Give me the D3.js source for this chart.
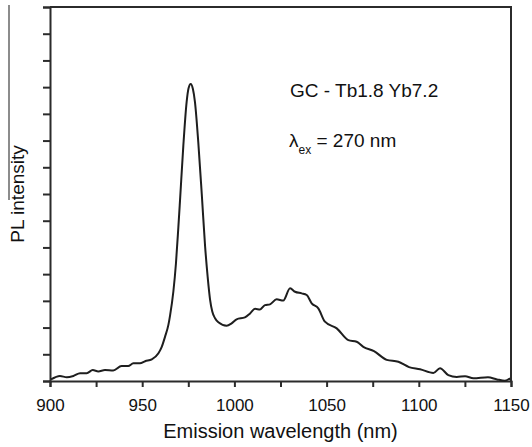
<!DOCTYPE html>
<html>
<head>
<meta charset="utf-8">
<script src="https://cdn.jsdelivr.net/npm/d3@7"></script>
<style>
  body { margin: 0; background: #fff; }
  svg { display: block; font-family: "Liberation Sans", Arial, Helvetica, sans-serif; }
</style>
</head>
<body>
<svg id="chart" width="532" height="447"></svg>
<script>
/* PL emission spectrum, GC - Tb1.8 Yb7.2, excited at 270 nm.
   Values (arbitrary intensity units). */
var wavelength = [
  900.5, 905.4, 909.1, 912.7, 916.3, 919.9, 923.2, 926.2, 929.8, 934.3,
  938.8, 942.4, 945.2, 948.8, 951.6, 955.2, 958.8, 960.6, 962.4, 964.2,
  965.1, 966.9, 968.3, 969.6, 970.5, 972.3, 974.1, 975.1, 976.3, 977.5,
  978.6, 980.4, 982.3, 984.1, 985.5, 986.8, 988.0, 989.5, 991.3, 995.8, 998.5,
  1001.2, 1005.7, 1008.5, 1011.2, 1013.9, 1016.6, 1019.3, 1022.9, 1026.5, 1030.2,
  1032.9, 1036.5, 1039.2, 1041.9, 1045.5, 1049.1, 1055.5, 1061.8, 1066.3, 1069.9,
  1075.7, 1082.6, 1088.9, 1094.7, 1100.7, 1107.9, 1111.5, 1116.0, 1120.6, 1125.1,
  1129.6, 1137.5, 1142.4, 1146.7, 1149.5
];
var intensity = [
  0.06, 0.19, 0.14, 0.19, 0.29, 0.29, 0.41, 0.36, 0.41, 0.39,
  0.56, 0.56, 0.66, 0.66, 0.74, 0.81, 1.04, 1.28, 1.66, 2.10,
  2.45, 3.35, 4.40, 5.75, 6.75, 8.80, 10.45, 10.95, 11.12, 10.93,
  10.45, 8.95, 7.00, 5.05, 3.90, 3.05, 2.60, 2.35, 2.20, 2.07, 2.16,
  2.31, 2.38, 2.53, 2.70, 2.68, 2.84, 2.87, 3.06, 3.01, 3.47,
  3.34, 3.28, 3.22, 2.91, 2.72, 2.22, 1.97, 1.53, 1.47, 1.28,
  1.12, 0.79, 0.72, 0.52, 0.44, 0.30, 0.48, 0.22, 0.15, 0.18,
  0.10, 0.14, 0.06, 0.01, 0.10
];
var xTicks = d3.range(900, 1151, 25);
var yTicks = d3.range(0, 15, 1);

var xLabel = 'Emission wavelength (nm)';
var yLabel = 'PL intensity';
var sampleLabel = 'GC - Tb1.8 Yb7.2';

(function () {
  'use strict';
  var svg = d3.select('#chart');
  var margin = { top: 7, right: 21, bottom: 66, left: 50 };
  var W = +svg.attr('width'), H = +svg.attr('height');
  var iw = W - margin.left - margin.right, ih = H - margin.top - margin.bottom;
  var ink = '#2b2b2b';

  var x = d3.scaleLinear().domain([900, 1150]).range([0, iw]);
  var y = d3.scaleLinear().domain([0, 14]).range([ih, 0]);

  /* stray line at the left edge of the scan */
  svg.append('line')
    .attr('x1', 9).attr('x2', 9).attr('y1', 5).attr('y2', 200)
    .attr('stroke', '#666').attr('stroke-width', 1.5);

  var g = svg.append('g').attr('transform', 'translate(' + margin.left + ',' + margin.top + ')');

  /* frame: top and right */
  g.append('path')
    .attr('d', 'M0,0H' + iw + 'V' + ih)
    .attr('fill', 'none').attr('stroke', ink).attr('stroke-width', 2);

  var xAxis = g.append('g').attr('transform', 'translate(0,' + ih + ')')
    .call(d3.axisBottom(x).tickValues(xTicks).tickSize(6).tickPadding(12)
      .tickFormat(function (d) { return d % 50 === 0 ? d : ''; }));
  var yAxis = g.append('g')
    .call(d3.axisLeft(y).tickValues(yTicks).tickSize(7).tickFormat(''));

  [xAxis, yAxis].forEach(function (a) {
    a.select('.domain').attr('stroke', ink).attr('stroke-width', 2);
    a.selectAll('.tick line').attr('stroke', ink).attr('stroke-width', 2);
    a.selectAll('.tick text').attr('fill', '#111').style('font-size', '17px');
  });

  /* spectrum */
  var line = d3.line()
    .x(function (d, i) { return x(wavelength[i]); })
    .y(function (d) { return y(d); })
    .curve(d3.curveMonotoneX);
  g.append('path')
    .datum(intensity)
    .attr('d', line)
    .attr('fill', 'none').attr('stroke', '#1e1e1e').attr('stroke-width', 2)
    .attr('stroke-linejoin', 'round');

  /* axis titles */
  svg.append('text')
    .attr('x', margin.left + iw / 2).attr('y', 438)
    .attr('text-anchor', 'middle').style('font-size', '20px').attr('fill', '#111')
    .text(xLabel);
  svg.append('text')
    .attr('transform', 'translate(24,' + (margin.top + ih / 2) + ') rotate(-90)')
    .attr('text-anchor', 'middle').style('font-size', '19px').attr('fill', '#111')
    .text(yLabel);

  /* annotations */
  svg.append('text')
    .attr('x', 290).attr('y', 97)
    .style('font-size', '19px').attr('fill', '#111')
    .text(sampleLabel);
  var lam = svg.append('text')
    .attr('x', 289).attr('y', 147)
    .style('font-size', '19px').attr('fill', '#111');
  lam.append('tspan').text('\u03BB');
  lam.append('tspan').attr('dy', 7).style('font-size', '12px').text('ex');
  lam.append('tspan').attr('dy', -7).text(' = 270 nm');
})();
</script>
</body>
</html>
